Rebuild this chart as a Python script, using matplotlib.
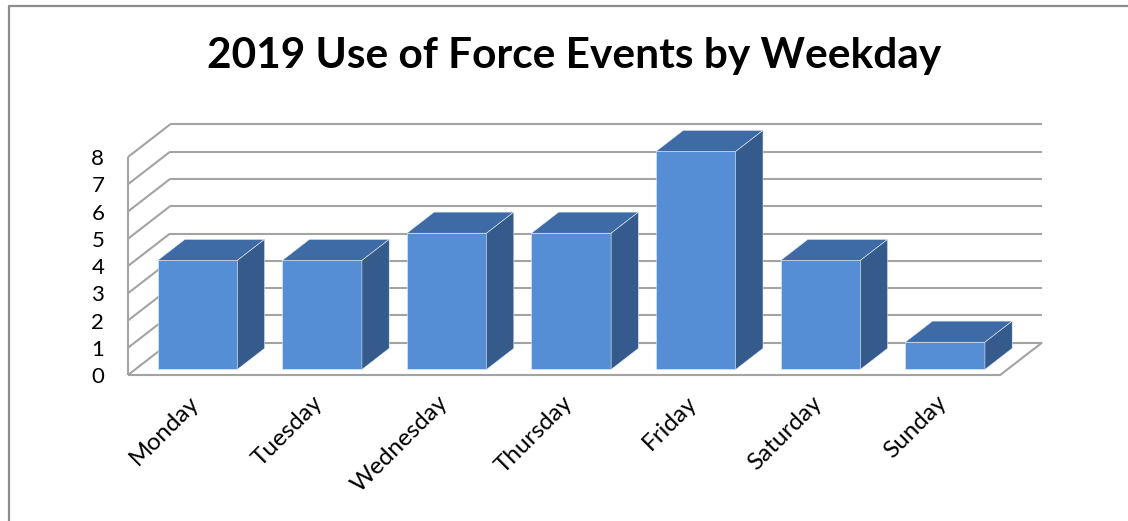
"""
2019 Use of Force Events by Weekday — pseudo-3D column chart
"""

import matplotlib.pyplot as plt
from matplotlib.patches import Polygon
from matplotlib.lines import Line2D

days = ["Monday", "Tuesday", "Wednesday", "Thursday", "Friday", "Saturday", "Sunday"]
counts = [4, 4, 5, 5, 8, 4, 1]
y_ticks = [0, 1, 2, 3, 4, 5, 6, 7, 8]
title = "2019 Use of Force Events by Weekday"

# ── Palette ───────────────────────────────────────────────────────────────────
FRONT = "#558ed5"
TOP = "#3e6ba6"
SIDE = "#355b8c"
GRID = "#a3a3a3"
FRAME = "#8c8c8c"

plt.rcParams["font.family"] = ["Lato", "DejaVu Sans"]

# pixel scale of the plot: one category slot = 124.6 px, one unit = 27.25 px
W, H = 1128, 521
SLOT, UNIT = 124.6, 27.25
X0, Y0 = 128, 375          # front-left floor corner in pixels

# oblique depth of the walls (in data units) and the bars' depth band
DX, DY = 42 / SLOT, 32.5 / UNIT
BAR_D0, BAR_D1 = 0.17, 0.82
BAR_W = 0.64

fig = plt.figure(figsize=(W / 100, H / 100), dpi=100)
ax = fig.add_axes([0, 0, 1, 1])
ax.set_xlim(-X0 / SLOT, (W - X0) / SLOT)
ax.set_ylim((Y0 - H) / UNIT, Y0 / UNIT)
ax.axis("off")

n = len(days)
top_val = max(y_ticks)
line_kw = dict(color=GRID, lw=1.5, solid_capstyle="butt", zorder=1)

# back wall gridlines
for v in y_ticks:
    ax.plot([DX, n + DX], [v + DY, v + DY], **line_kw)
# left wall: front edge plus diagonals
ax.plot([0, 0], [0, top_val], **line_kw)
for v in y_ticks:
    ax.plot([0, DX], [v, v + DY], **line_kw)
# floor outline
ax.plot([0, n, n + DX], [0, 0, DY], **line_kw)

# ── Columns ───────────────────────────────────────────────────────────────────
for i, c in enumerate(counts):
    left = i + 0.5 - BAR_W / 2 + BAR_D0 * DX
    right = left + BAR_W
    base = BAR_D0 * DY
    ddx, ddy = (BAR_D1 - BAR_D0) * DX, (BAR_D1 - BAR_D0) * DY
    ax.bar(left, c, width=BAR_W, bottom=base, align="edge",
           color=FRONT, edgecolor="#e6eef8", linewidth=0.4, zorder=3)
    ax.add_patch(Polygon([(left, base + c), (right, base + c),
                          (right + ddx, base + c + ddy), (left + ddx, base + c + ddy)],
                         closed=True, facecolor=TOP, edgecolor="#e6eef8",
                         linewidth=0.4, zorder=3))
    ax.add_patch(Polygon([(right, base), (right, base + c),
                          (right + ddx, base + c + ddy), (right + ddx, base + ddy)],
                         closed=True, facecolor=SIDE, edgecolor="#e6eef8",
                         linewidth=0.4, zorder=3))

# ── Labels ────────────────────────────────────────────────────────────────────
for v in y_ticks:
    ax.text(-0.19, v - 0.08, str(v), ha="right", va="center",
            fontsize=16, color="#000000")

for i, d in enumerate(days):
    ax.text(i + 0.5 + 0.04, -0.9, d, rotation=45, rotation_mode="anchor",
            ha="right", va="center", fontsize=17.5, color="#000000")

fig.text(574 / W, 1 - 68 / H, title, ha="center", va="baseline",
         fontsize=30.5, fontweight="bold", color="#000000")

# chart frame (left and top edges)
fx, fy = 8.5 / W, 1 - 6 / H
fig.add_artist(Line2D([fx, fx, 1], [0, fy, fy], transform=fig.transFigure,
                      color=FRAME, lw=1.6))

fig.savefig("out.png", dpi=100)
